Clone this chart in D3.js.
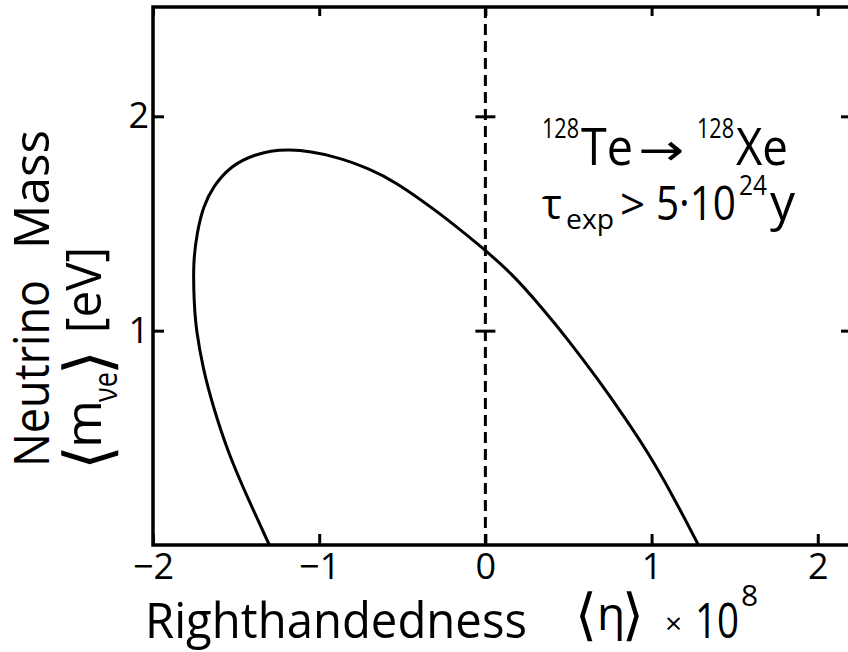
<!DOCTYPE html>
<html>
<head>
<meta charset="utf-8">
<script src="https://cdn.jsdelivr.net/npm/d3@7"></script>
<style>
  body { margin: 0; background: #fff; }
  svg { display: block; }
  text { font-family: "Open Sans", "DejaVu Sans", sans-serif; fill: #000; }
</style>
</head>
<body>
<div id="chart"></div>
<script>
// contour, eta x 10^8 vs <m_nu> in eV
const etaValues = [-1.30, -1.433, -1.548, -1.638, -1.698, -1.741, -1.753, -1.759, -1.735, -1.698, -1.638, -1.535, -1.397, -1.192, -0.890, -0.691, -0.552, -0.287, -0.027, 0.154, 0.335, 0.498, 0.679, 0.836, 0.980, 1.119, 1.282];
const massValues = [0, 0.224, 0.430, 0.645, 0.818, 1.005, 1.131, 1.318, 1.458, 1.579, 1.673, 1.766, 1.822, 1.855, 1.813, 1.752, 1.700, 1.556, 1.393, 1.271, 1.112, 0.958, 0.771, 0.598, 0.430, 0.243, 0];

const xTicks = [-2, -1, 0, 1, 2];
const xTickLabels = ['\u22122', '\u22121', '0', '1', '2'];
const yTicks = [1, 2];
const yTickLabels = ['1', '2'];

const width = 848, height = 652;
const margin = {top: 7, right: -3, bottom: 107, left: 153};

const x = d3.scaleLinear().domain([-2, 2.2]).range([margin.left, width - margin.right]);
const y = d3.scaleLinear().domain([0, 2.51]).range([height - margin.bottom, margin.top]);

const svg = d3.select('#chart').append('svg')
    .attr('width', width).attr('height', height)
    .attr('viewBox', [0, 0, width, height]);

// frame
svg.append('rect')
    .attr('x', x(-2)).attr('y', y(2.51))
    .attr('width', x(2.2) - x(-2)).attr('height', y(0) - y(2.51))
    .attr('fill', 'none').attr('stroke', '#000').attr('stroke-width', 3.5);

const xAxis = (g) => {
    return g.attr('transform', `translate(0,${y(0)})`)
        .call(d3.axisBottom(x).tickValues(xTicks).tickFormat((d, i) => xTickLabels[i]).tickSize(-11).tickPadding(8))
        .call((g) => g.select('.domain').remove())
        .call((g) => g.selectAll('.tick line').attr('stroke-width', 3))
        .call((g) => g.selectAll('.tick text').attr('font-size', 36).style('font-family', '"Open Sans", sans-serif'));
};
const xAxisTop = (g) => {
    return g.attr('transform', `translate(0,${y(2.51)})`)
        .call(d3.axisTop(x).tickValues(xTicks).tickFormat('').tickSize(-9))
        .call((g) => g.select('.domain').remove())
        .call((g) => g.selectAll('.tick line').attr('stroke-width', 3));
};
const yAxis = (g) => {
    return g.attr('transform', `translate(${x(-2)},0)`)
        .call(d3.axisLeft(y).tickValues(yTicks).tickFormat((d, i) => yTickLabels[i]).tickSize(-11).tickPadding(4))
        .call((g) => g.select('.domain').remove())
        .call((g) => g.selectAll('.tick line').attr('stroke-width', 3))
        .call((g) => g.selectAll('.tick text').attr('font-size', 36).style('font-family', '"Open Sans", sans-serif'));
};
const yAxisRight = (g) => {
    return g.attr('transform', `translate(${x(2.2)},0)`)
        .call(d3.axisRight(y).tickValues(yTicks).tickFormat('').tickSize(-10))
        .call((g) => g.select('.domain').remove())
        .call((g) => g.selectAll('.tick line').attr('stroke-width', 3));
};
// little crosses on the eta = 0 line
const yAxisMid = (g) => {
    return g.attr('transform', `translate(${x(0) - 10},0)`)
        .call(d3.axisRight(y).tickValues(yTicks).tickFormat('').tickSize(20))
        .call((g) => g.select('.domain').remove())
        .call((g) => g.selectAll('.tick line').attr('stroke-width', 3));
};

svg.append('g').call(xAxis);
svg.append('g').call(xAxisTop);
svg.append('g').call(yAxis);
svg.append('g').call(yAxisRight);
svg.append('g').call(yAxisMid);

// dashed eta = 0
svg.append('line')
    .attr('x1', x(0)).attr('x2', x(0))
    .attr('y1', y(2.51)).attr('y2', y(0))
    .attr('stroke', '#000').attr('stroke-width', 3)
    .attr('stroke-dasharray', '11,6');

// contour
const points = etaValues.map((d, i) => [d, massValues[i]]);
const line = d3.line().x((d) => x(d[0])).y((d) => y(d[1])).curve(d3.curveBasis);
svg.append('path')
    .datum(points)
    .attr('d', line)
    .attr('fill', 'none').attr('stroke', '#000').attr('stroke-width', 3);

// x label
const xl = svg.append('g').attr('font-size', 50);
xl.append('text').attr('x', 145).attr('y', 638).attr('textLength', 382).attr('lengthAdjust', 'spacingAndGlyphs').text('Righthandedness');
xl.append('text').attr('x', 575).attr('y', 634).style('font-family', '"DejaVu Sans", sans-serif').attr('font-size', 56).text('\u27E8');
xl.append('text').attr('x', 597).attr('y', 630).attr('font-size', 46).text('\u03B7');
xl.append('text').attr('x', 622).attr('y', 634).style('font-family', '"DejaVu Sans", sans-serif').attr('font-size', 56).text('\u27E9');
xl.append('text').attr('x', 665).attr('y', 634).attr('font-size', 30).text('\u00D7');
xl.append('text').attr('x', 695).attr('y', 638).attr('textLength', 44).attr('lengthAdjust', 'spacingAndGlyphs').text('10');
xl.append('text').attr('x', 741).attr('y', 606).attr('font-size', 30).text('8');

// y label, rotated
const yl = svg.append('g').attr('transform', 'rotate(-90)').attr('font-size', 50);
yl.append('text').attr('x', -467).attr('y', 49).attr('textLength', 187).attr('lengthAdjust', 'spacingAndGlyphs').text('Neutrino');
yl.append('text').attr('x', -249).attr('y', 49).attr('textLength', 119).attr('lengthAdjust', 'spacingAndGlyphs').text('Mass');
yl.append('text').attr('x', -470).attr('y', 110).style('font-family', '"DejaVu Sans", sans-serif').attr('font-size', 64).text('\u27E8');
yl.append('text').attr('x', -448).attr('y', 101).attr('textLength', 48).attr('lengthAdjust', 'spacingAndGlyphs').text('m');
yl.append('text').attr('x', -402).attr('y', 117).attr('font-size', 32).attr('textLength', 30).attr('lengthAdjust', 'spacingAndGlyphs').text('\u03BDe');
yl.append('text').attr('x', -375).attr('y', 110).style('font-family', '"DejaVu Sans", sans-serif').attr('font-size', 64).text('\u27E9');
yl.append('text').attr('x', -333).attr('y', 101).attr('textLength', 86).attr('lengthAdjust', 'spacingAndGlyphs').text('[eV]');

// reaction annotation
const ann = svg.append('g').attr('font-size', 52);
ann.append('text').attr('x', 542).attr('y', 138).attr('font-size', 28).attr('textLength', 37).attr('lengthAdjust', 'spacingAndGlyphs').text('128');
ann.append('text').attr('x', 581).attr('y', 165).attr('textLength', 52).attr('lengthAdjust', 'spacingAndGlyphs').text('Te');
ann.append('text').attr('x', 638).attr('y', 165).attr('font-size', 44).attr('textLength', 46).attr('lengthAdjust', 'spacingAndGlyphs').text('\u2192');
ann.append('text').attr('x', 697).attr('y', 138).attr('font-size', 28).attr('textLength', 37).attr('lengthAdjust', 'spacingAndGlyphs').text('128');
ann.append('text').attr('x', 736).attr('y', 165).attr('textLength', 52).attr('lengthAdjust', 'spacingAndGlyphs').text('Xe');

ann.append('text').attr('x', 542).attr('y', 219).attr('font-size', 42).text('\u03C4');
ann.append('text').attr('x', 566).attr('y', 229).attr('font-size', 28).attr('textLength', 48).attr('lengthAdjust', 'spacingAndGlyphs').text('exp');
ann.append('text').attr('x', 620).attr('y', 220).attr('font-size', 44).text('>');
ann.append('text').attr('x', 656).attr('y', 220).attr('font-size', 48).attr('textLength', 80).attr('lengthAdjust', 'spacingAndGlyphs').text('5\u00B710');
ann.append('text').attr('x', 739).attr('y', 195).attr('font-size', 27).attr('textLength', 28).attr('lengthAdjust', 'spacingAndGlyphs').text('24');
ann.append('text').attr('x', 770).attr('y', 220).attr('font-size', 50).text('y');
</script>
</body>
</html>
